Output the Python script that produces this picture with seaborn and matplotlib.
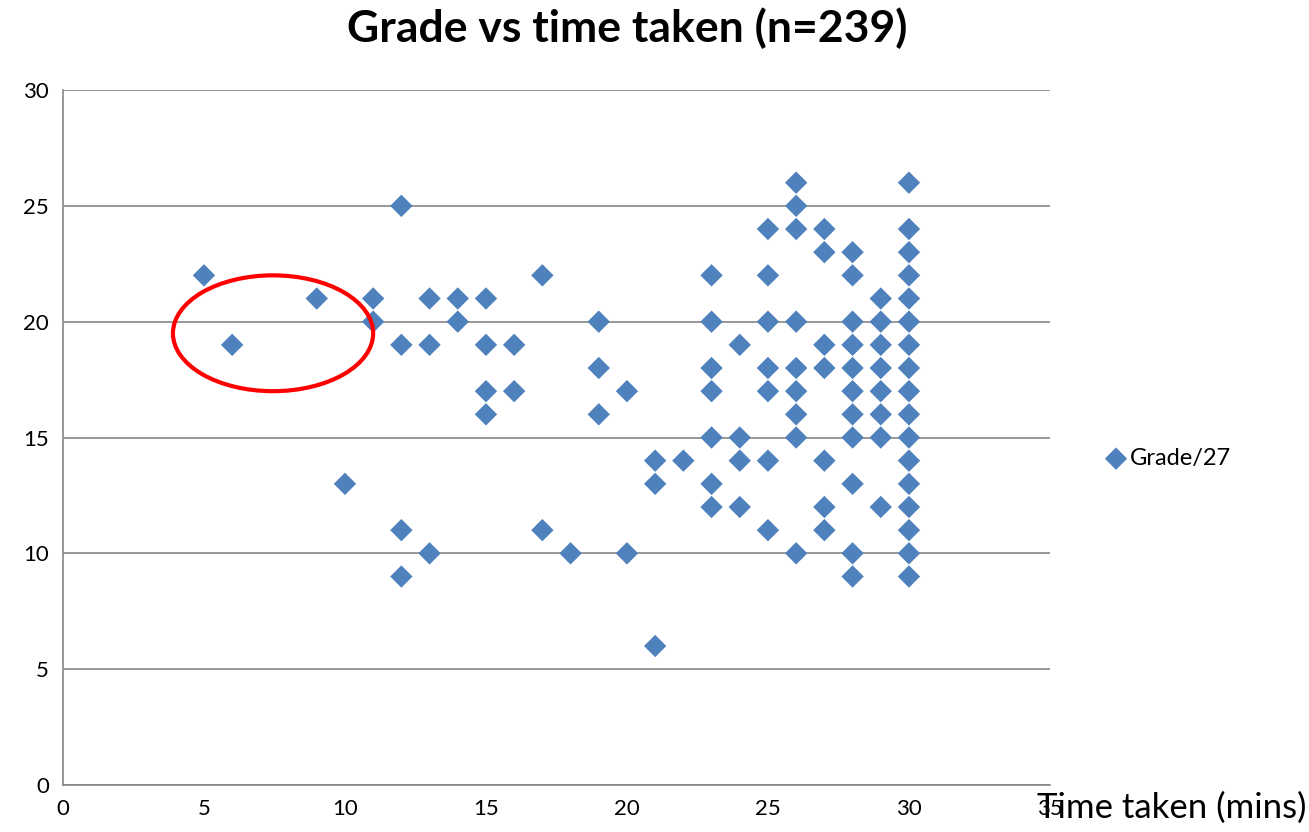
import pandas as pd
import numpy as np
import seaborn as sns
import matplotlib.pyplot as plt
from matplotlib.patches import Ellipse

# time taken (mins) and grade (/27)
time_taken = [5, 6, 9, 10, 11, 11,
              12, 12, 12, 12, 13, 13, 13, 14, 14,
              15, 15, 15, 15, 16, 16, 17, 17, 18,
              19, 19, 19, 20, 20, 21, 21, 21, 22,
              23, 23, 23, 23, 23, 23, 23,
              24, 24, 24, 24,
              25, 25, 25, 25, 25, 25, 25,
              26, 26, 26, 26, 26, 26, 26, 26, 26,
              27, 27, 27, 27, 27, 27, 27,
              28, 28, 28, 28, 28, 28, 28, 28, 28, 28, 28,
              29, 29, 29, 29, 29, 29, 29, 29,
              30, 30, 30, 30, 30, 30, 30, 30, 30, 30, 30, 30, 30, 30, 30, 30, 30]
grade = [22, 19, 21, 13, 21, 20,
         25, 19, 11, 9, 21, 19, 10, 21, 20,
         21, 19, 17, 16, 19, 17, 22, 11, 10,
         20, 18, 16, 17, 10, 14, 13, 6, 14,
         22, 20, 18, 17, 15, 13, 12,
         19, 15, 14, 12,
         24, 22, 20, 18, 17, 14, 11,
         26, 25, 24, 20, 18, 17, 16, 15, 10,
         24, 23, 19, 18, 14, 12, 11,
         23, 22, 20, 19, 18, 17, 16, 15, 13, 10, 9,
         21, 20, 19, 18, 17, 16, 15, 12,
         26, 24, 23, 22, 21, 20, 19, 18, 17, 16, 15, 14, 13, 12, 11, 10, 9]

df = pd.DataFrame({'time': time_taken, 'grade': grade})

sns.set_style("white")
plt.rcParams['font.family'] = ['Lato', 'DejaVu Sans']
plt.rcParams['text.color'] = 'black'
plt.rcParams['xtick.labelcolor'] = 'black'
plt.rcParams['ytick.labelcolor'] = 'black'

fig = plt.figure(figsize=(13.09, 8.32), dpi=100)
ax = fig.add_axes([0.0481, 0.0565, 0.754, 0.8353])

grid_col = '#868686'
sns.scatterplot(data=df, x='time', y='grade', marker='D', s=130, color='#4F81BD',
                edgecolor='none', label='Grade/27', ax=ax, zorder=3)

ax.set_xlim(0, 35)
ax.set_ylim(0, 30)
ax.set_xticks(range(0, 36, 5))
ax.set_yticks(range(0, 31, 5))
ax.yaxis.grid(True, color=grid_col, linewidth=1.2)
ax.set_axisbelow(True)
for side in ['top', 'right']:
    ax.spines[side].set_visible(False)
for side in ['left', 'bottom']:
    ax.spines[side].set_color(grid_col)
    ax.spines[side].set_linewidth(1.2)
ax.tick_params(axis='both', direction='out', length=6, width=1.2, color=grid_col,
               labelsize=16, pad=4)
ax.set_xlabel('')
ax.set_ylabel('')

# highlight early finishers
ax.add_patch(Ellipse((7.45, 19.5), 7.1, 5.0, fill=False, edgecolor='#FF0000',
                     linewidth=3, zorder=4))

fig.text(0.479, 0.966, 'Grade vs time taken (n=239)', ha='center', va='center',
         fontsize=32, fontweight='bold')
fig.text(0.998, 0.029, 'Time taken (mins)', ha='right', va='center', fontsize=25)

ax.legend(loc='center left', bbox_to_anchor=(1.043, 0.47), frameon=False,
          fontsize=17, handletextpad=0.0, markerscale=1.0, borderaxespad=0,
          handlelength=1.2)

fig.savefig('out.png', dpi=100)
